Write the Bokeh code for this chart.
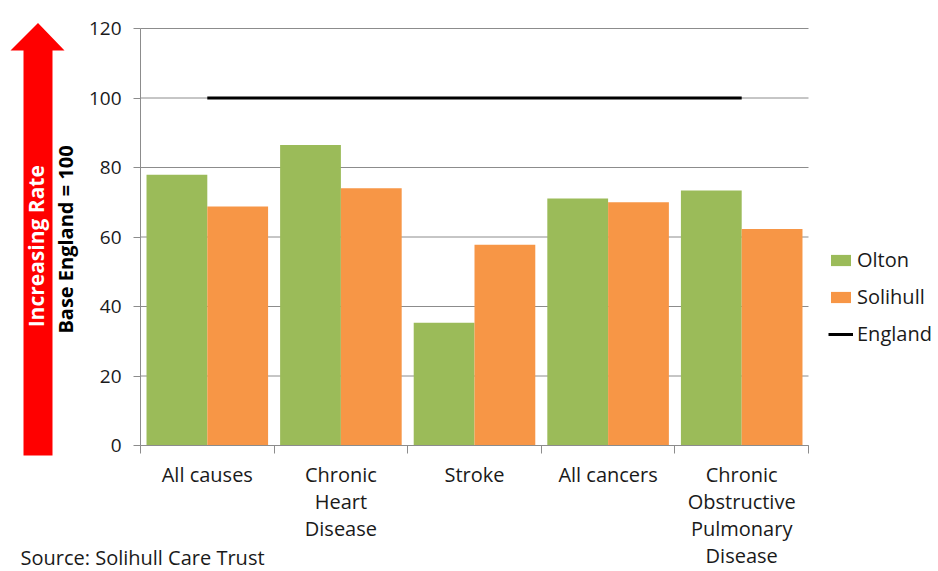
import math
from bokeh.plotting import figure
from bokeh.models import (Range1d, FixedTicker, Legend, LegendItem, PolyAnnotation,
                          Label, ColumnDataSource)
from bokeh.transform import dodge
from bokeh.embed import file_html
from bokeh.resources import INLINE

# ---- data ----
categories = ["All causes", "Chronic\nHeart\nDisease", "Stroke", "All cancers",
              "Chronic\nObstructive\nPulmonary\nDisease"]
olton = [77.9, 86.5, 35.3, 71.1, 73.4]
solihull = [68.8, 74.0, 57.8, 70.0, 62.3]
england = [100, 100, 100, 100, 100]
y_ticks = [0, 20, 40, 60, 80, 100, 120]

FONT = "Open Sans"
GREEN = "#9BBB59"
ORANGE = "#F79646"
GRAY = "#8C8C8C"
TXT = "#1a1a1a"

W, H = 938, 571
# plot area (pixels) inside the canvas
PL, PR, PT, PB = 140, 808, 28, 445
n = len(categories)
ymax = y_ticks[-1]
xs_per_px = n / (PR - PL)
ys_per_px = ymax / (PB - PT)
x_range = Range1d(-PL * xs_per_px, n + (W - PR) * xs_per_px)
y_range = Range1d(-(H - PB) * ys_per_px, ymax + PT * ys_per_px)

centers = [i + 0.5 for i in range(n)]
src = ColumnDataSource(dict(x=centers, olton=olton, solihull=solihull, england=england))

p = figure(width=W, height=H, output_backend="svg", toolbar_location=None,
           x_range=x_range, y_range=y_range,
           min_border_left=0, min_border_right=0, min_border_top=0, min_border_bottom=0)
p.outline_line_color = None
p.background_fill_color = "white"
p.xgrid.grid_line_color = None
p.ygrid.grid_line_color = None

# horizontal gridlines limited to the plot area
p.segment(x0=0, x1=n, y0=y_ticks, y1=y_ticks, line_color=GRAY, line_width=1,
          level="underlay")

r1 = p.vbar(x=dodge("x", -0.2275, range=p.x_range), top="olton", width=0.455,
            source=src, fill_color=GREEN, line_color=None)
r2 = p.vbar(x=dodge("x", 0.2275, range=p.x_range), top="solihull", width=0.455,
            source=src, fill_color=ORANGE, line_color=None)
r3 = p.line(x="x", y="england", source=src, line_color="black", line_width=3)

# x axis
xa = p.xaxis[0]
xa.fixed_location = 0
xa.bounds = (0, n)
xa.ticker = FixedTicker(ticks=centers, minor_ticks=list(range(n + 1)))
xa.major_label_overrides = {c: lab for c, lab in zip(centers, categories)}
xa.major_tick_line_color = None
xa.major_tick_out = 8
xa.major_tick_in = 0
xa.minor_tick_out = 8
xa.minor_tick_in = 0
xa.minor_tick_line_color = GRAY
xa.axis_line_color = GRAY
xa.major_label_standoff = 7
xa.major_label_text_font = FONT
xa.major_label_text_font_size = "20px"
xa.major_label_text_line_height = 1.01
xa.major_label_text_color = TXT

# y axis
ya = p.yaxis[0]
ya.fixed_location = 0
ya.bounds = (0, ymax)
ya.ticker = FixedTicker(ticks=y_ticks)
ya.major_tick_out = 7
ya.major_tick_in = 0
ya.minor_tick_line_color = None
ya.major_tick_line_color = GRAY
ya.axis_line_color = GRAY
ya.major_label_standoff = 12
ya.major_label_text_font = FONT
ya.major_label_text_font_size = "19px"
ya.major_label_text_color = TXT

legend = Legend(items=[LegendItem(label="Olton", renderers=[r1]),
                       LegendItem(label="Solihull", renderers=[r2]),
                       LegendItem(label="England", renderers=[r3])],
                location=(828, 224), glyph_width=25, glyph_height=14,
                label_standoff=4, spacing=10, padding=0, margin=0,
                border_line_color=None, background_fill_alpha=0,
                label_text_font=FONT, label_text_font_size="20px",
                label_text_color=TXT)
p.add_layout(legend)

# red "increasing rate" arrow (decoration, pixels from bottom-left of canvas)
arrow = PolyAnnotation(xs=[23, 52, 52, 64, 37.5, 10, 23, 23],
                       ys=[116, 116, 521, 521, 548.5, 521, 521, 116],
                       xs_units="screen", ys_units="screen",
                       fill_color="#FF0000", fill_alpha=1.0, line_color=None)
p.add_layout(arrow)

p.add_layout(Label(x=35.5, y=328, x_units="screen", y_units="screen",
                   text="Increasing  Rate", angle=math.pi / 2,
                   text_align="center", text_baseline="middle",
                   text_font=FONT, text_font_size="21px", text_font_style="bold",
                   text_color="white"))
p.add_layout(Label(x=64.5, y=332, x_units="screen", y_units="screen",
                   text="Base England = 100", angle=math.pi / 2,
                   text_align="center", text_baseline="middle",
                   text_font=FONT, text_font_size="20px", text_font_style="bold",
                   text_color="black"))
p.add_layout(Label(x=20, y=1, x_units="screen", y_units="screen",
                   text="Source: Solihull Care Trust",
                   text_align="left", text_baseline="bottom",
                   text_font=FONT, text_font_size="20px", text_color=TXT))

open("out.html", "w").write(file_html(p, INLINE))
